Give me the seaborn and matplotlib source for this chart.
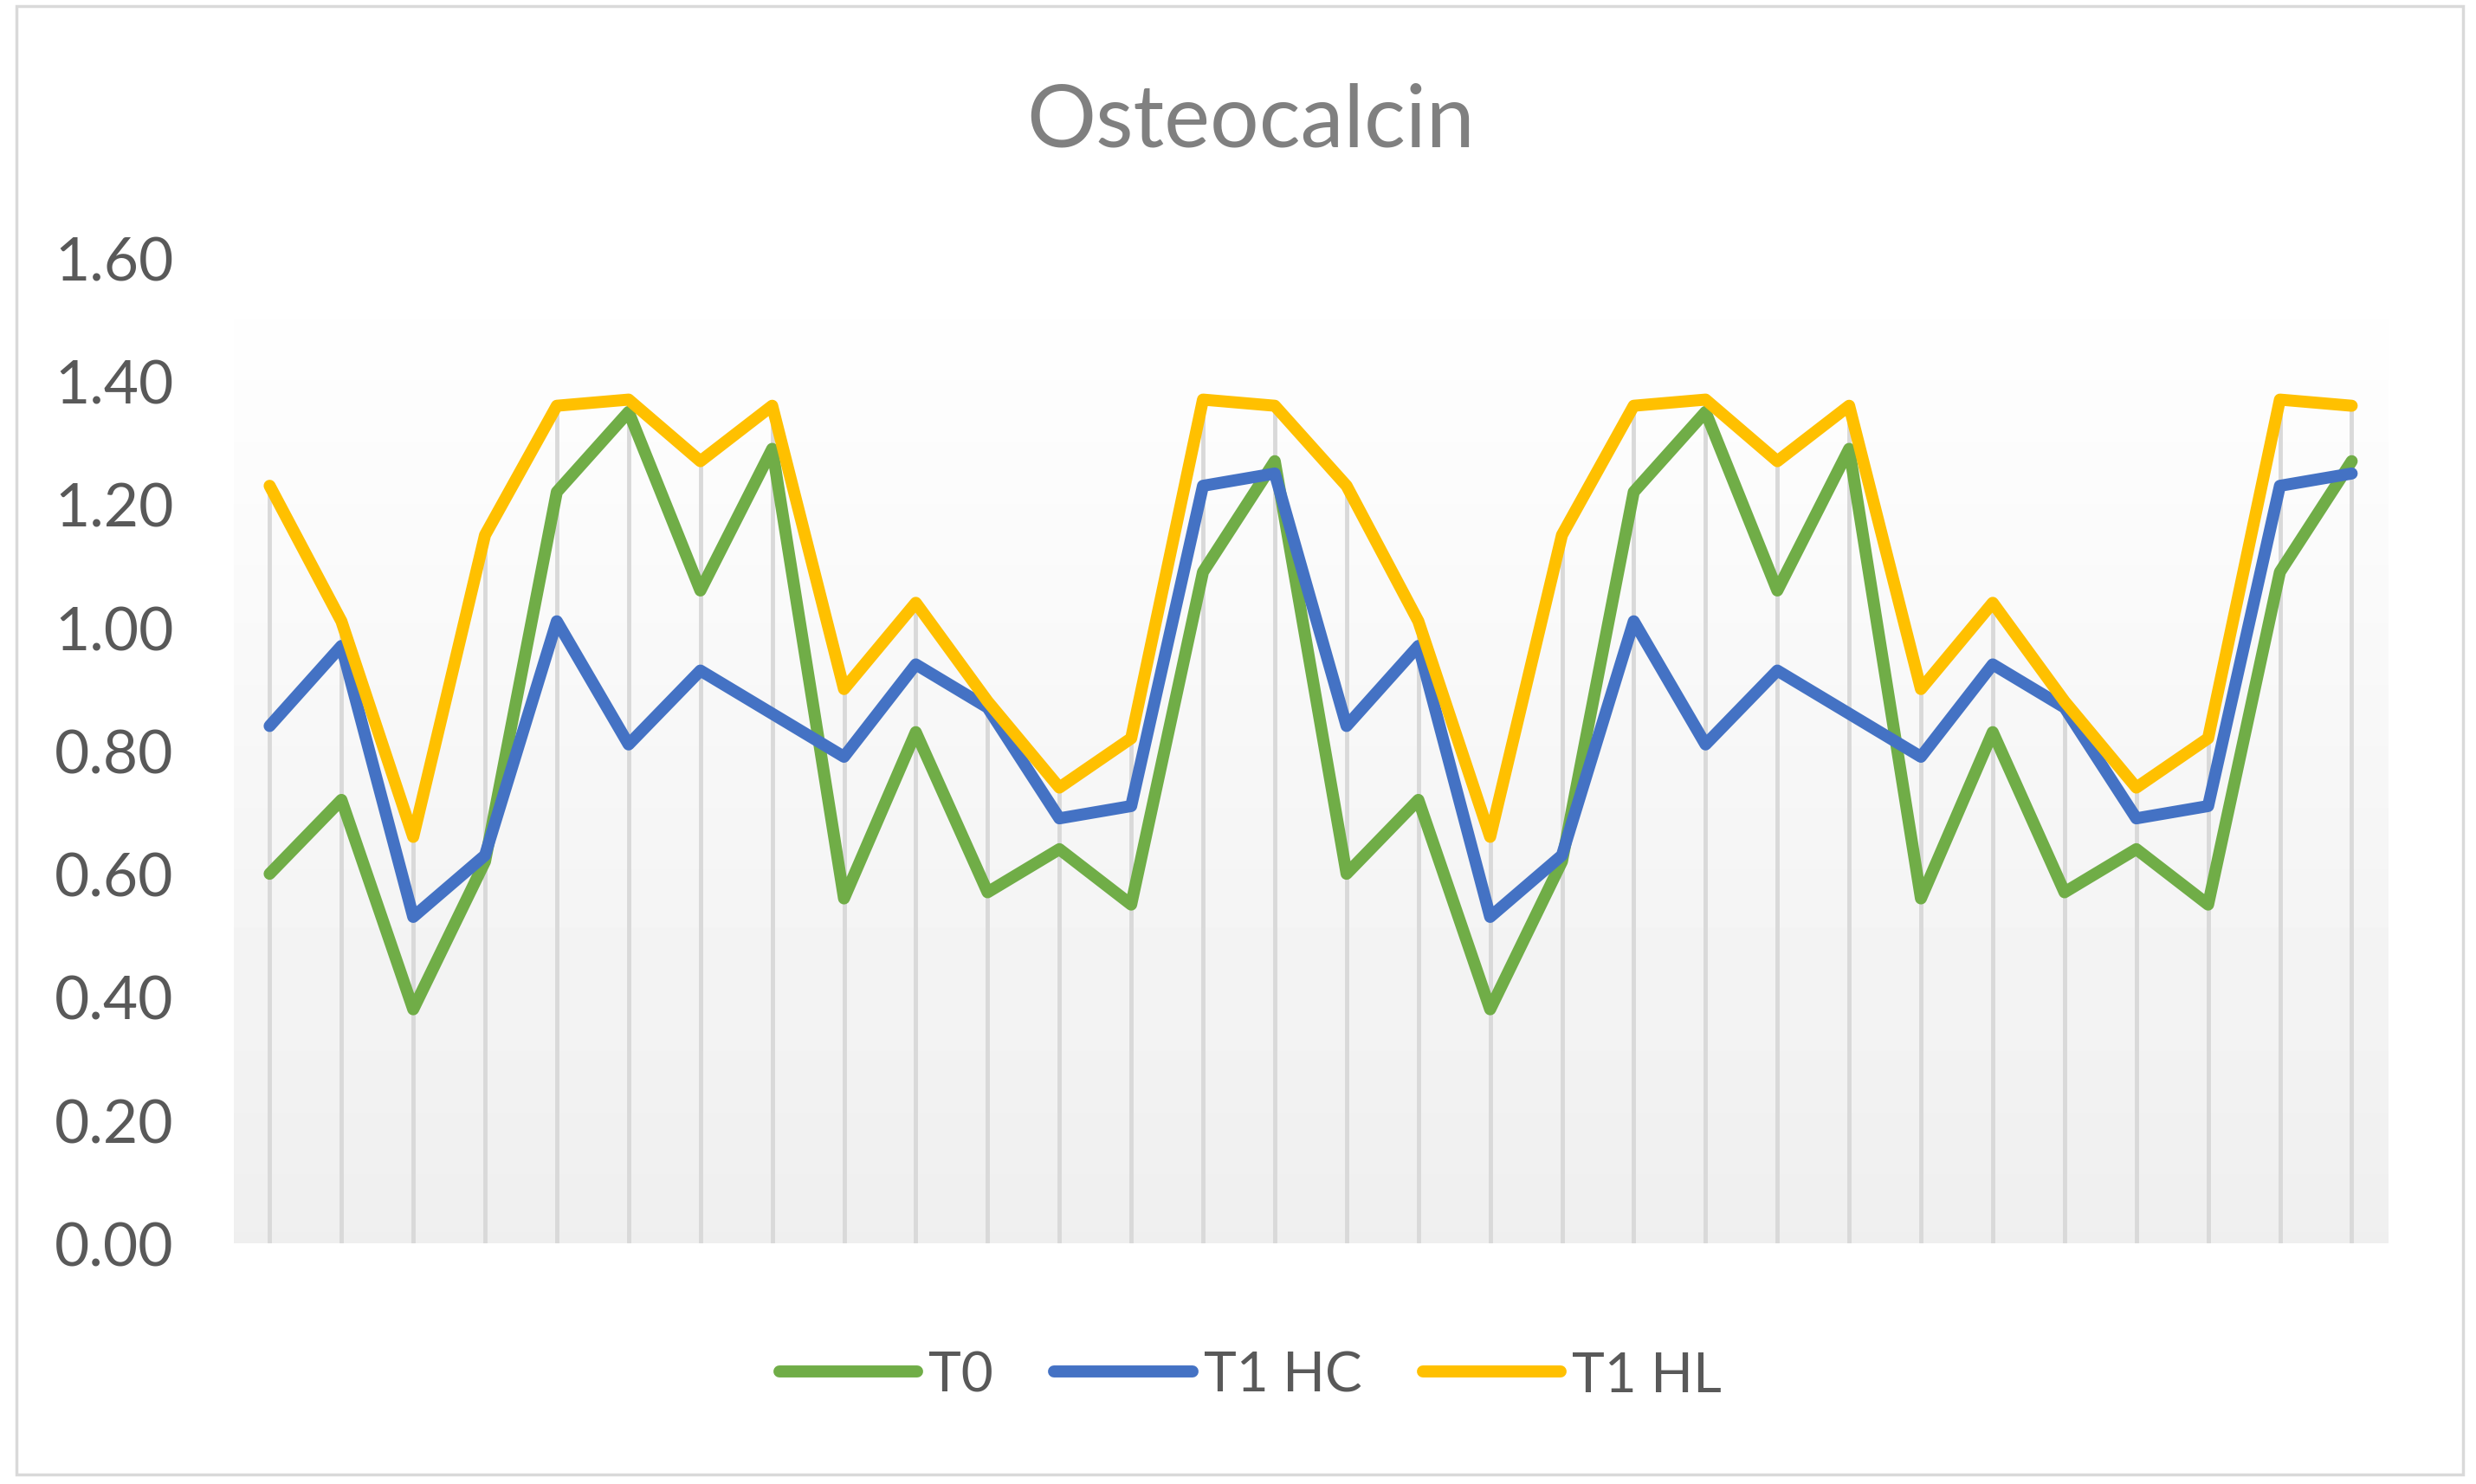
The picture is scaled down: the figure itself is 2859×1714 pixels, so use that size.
import numpy as np
import pandas as pd
import matplotlib
matplotlib.use('Agg')
import matplotlib.pyplot as plt
from matplotlib.lines import Line2D
from matplotlib.patches import Rectangle
import seaborn as sns

# values (30 categories, no x labels)
samples = list(range(1, 31))
t0 = [0.60, 0.72, 0.38, 0.62, 1.22, 1.35, 1.06, 1.29, 0.56, 0.83, 0.57, 0.64, 0.55, 1.09, 1.27,
      0.60, 0.72, 0.38, 0.62, 1.22, 1.35, 1.06, 1.29, 0.56, 0.83, 0.57, 0.64, 0.55, 1.09, 1.27]
t1_hc = [0.84, 0.97, 0.53, 0.63, 1.01, 0.81, 0.93, 0.86, 0.79, 0.94, 0.87, 0.69, 0.71, 1.23, 1.25,
         0.84, 0.97, 0.53, 0.63, 1.01, 0.81, 0.93, 0.86, 0.79, 0.94, 0.87, 0.69, 0.71, 1.23, 1.25]
t1_hl = [1.23, 1.01, 0.66, 1.15, 1.36, 1.37, 1.27, 1.36, 0.90, 1.04, 0.88, 0.74, 0.82, 1.37, 1.36,
         1.23, 1.01, 0.66, 1.15, 1.36, 1.37, 1.27, 1.36, 0.90, 1.04, 0.88, 0.74, 0.82, 1.37, 1.36]
series_names = ['T0', 'T1 HC', 'T1 HL']
colors = ['#70AD47', '#4472C4', '#FFC000']
y_ticks = [0.0, 0.2, 0.4, 0.6, 0.8, 1.0, 1.2, 1.4, 1.6]

df = pd.DataFrame({'sample': samples * 3,
                   'value': t0 + t1_hc + t1_hl,
                   'series': [s for s in series_names for _ in samples]})

sns.set_style('white')
plt.rcParams['font.family'] = ['Lato', 'DejaVu Sans']
text_col = '#595959'
lw = 10

fig = plt.figure(figsize=(28.59, 17.15), dpi=100)
ax = fig.add_axes([0.0944, 0.1621, 0.8699, 0.6636])

# plot area gradient (white at top -> light grey at bottom)
grad = np.linspace(1.0, 0.937, 256).reshape(-1, 1)
ax.imshow(grad, extent=[0.5, 30.5, 0, 1.6], aspect='auto', cmap='gray',
          vmin=0, vmax=1, origin='upper', zorder=0)

# drop lines from the highest series down to the axis
tops = np.max([t0, t1_hc, t1_hl], axis=0)
ax.vlines(samples, 0, tops, color='#d9d9d9', linewidth=3.5, zorder=1)

sns.lineplot(data=df, x='sample', y='value', hue='series', hue_order=series_names,
             palette=colors, linewidth=lw, ax=ax, legend=False,
             solid_joinstyle='round', solid_capstyle='round', zorder=3)

ax.set_xlim(0.5, 30.5)
ax.set_ylim(0, 1.6)
ax.set_yticks(y_ticks)
ax.set_yticklabels([f'{v:.2f}' for v in y_ticks])
ax.set_xticks([])
ax.set_xlabel('')
ax.set_ylabel('')
ax.tick_params(axis='y', length=0, pad=50, labelsize=50, labelcolor=text_col)
for sp in ax.spines.values():
    sp.set_visible(False)
ax.grid(False)

fig.text(0.505, 0.918, 'Osteocalcin', ha='center', va='center',
         fontsize=72, color='#808080')

handles = [Line2D([0], [0], color=c, linewidth=lw, solid_capstyle='round') for c in colors]
fig.legend(handles, series_names, loc='center', bbox_to_anchor=(0.505, 0.073), ncol=3,
           frameon=False, fontsize=46, labelcolor=text_col, handlelength=2.5,
           handletextpad=0.2, columnspacing=1.1)

# chart border
fig.patches.append(Rectangle((19 / 2859, 1 - 1704 / 1715), (2844 - 19) / 2859, (1704 - 8) / 1715,
                             transform=fig.transFigure, fill=False,
                             edgecolor='#d9d9d9', linewidth=2.5))

fig.savefig('out.png', dpi=100, facecolor='white')
